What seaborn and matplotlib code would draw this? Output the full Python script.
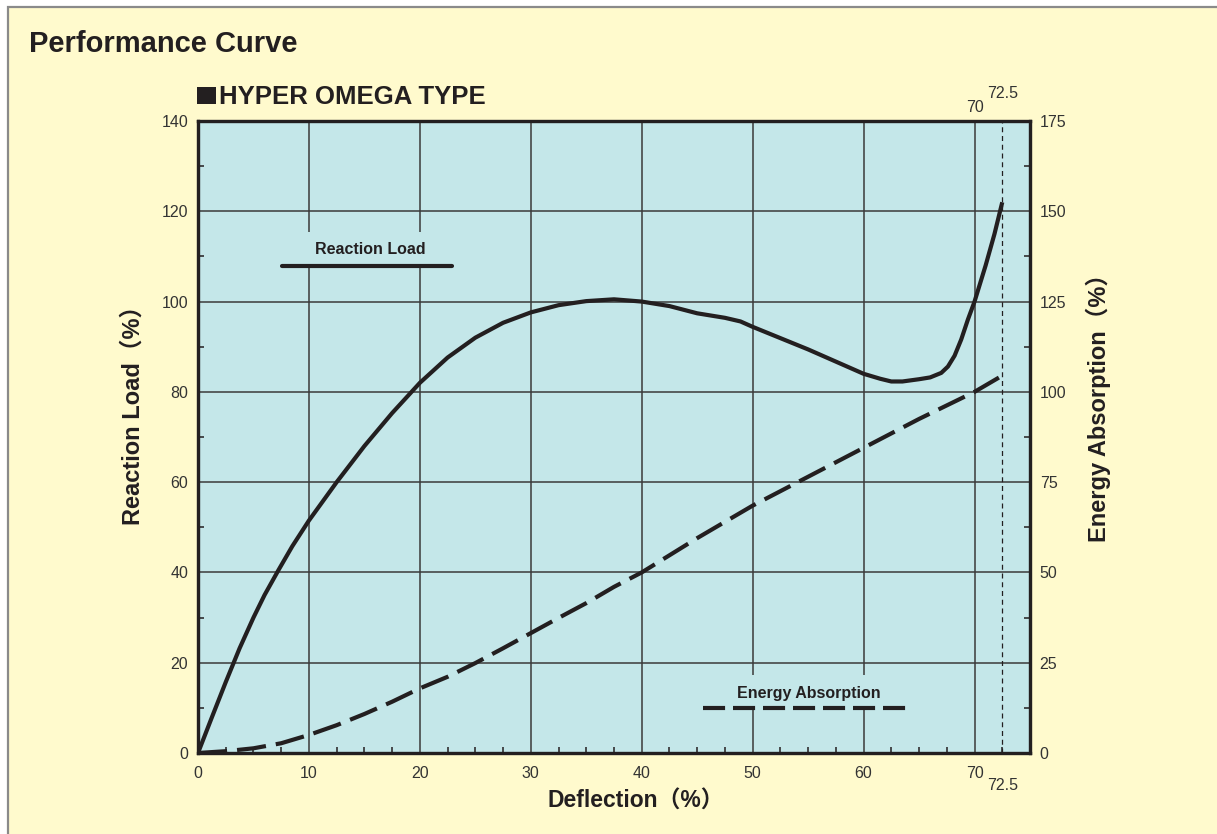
import matplotlib
matplotlib.use("Agg")
import matplotlib.pyplot as plt
from matplotlib.ticker import MultipleLocator, FixedLocator
from matplotlib.patches import Rectangle
from matplotlib.lines import Line2D
import pandas as pd
import seaborn as sns

# Reaction load (% of rated) vs deflection (%)
load_defl = [0, 1.25, 2.5, 3.75, 5, 6, 7.25, 8.5, 10, 12.5, 15, 17.5, 20, 22.5, 25, 27.5, 30, 32.5,
             35, 37.5, 40, 42.5, 45, 47.5, 48.9, 50, 52.5, 55, 57.5, 60, 61.5, 62.5, 63.5, 65,
             66, 67, 67.6, 68.2, 68.8, 69.4, 70, 71, 71.8, 72.5]
load_vals = [0, 7.9, 15.7, 23.2, 30.0, 35.0, 40.5, 45.8, 51.5, 60, 68, 75.3, 82, 87.6, 92, 95.3, 97.6, 99.2,
             100.1, 100.5, 100, 99, 97.4, 96.4, 95.6, 94.4, 91.9, 89.4, 86.7, 84, 82.9, 82.3, 82.3, 82.8,
             83.2, 84.2, 85.6, 88.0, 91.6, 96.0, 100, 108, 115, 122]

# Energy absorption (% of rated) vs deflection (%)
energy_defl = [0, 2.5, 5, 7.5, 10, 12.5, 15, 17.5, 20, 22.5, 25, 27.5, 30, 32.5, 35, 37.5, 40,
               45, 50, 55, 60, 65, 70, 72.5]
energy_vals = [0, 0.5, 1.3, 2.7, 5, 7.7, 10.8, 14.2, 17.9, 21.1, 24.9, 29, 33.2, 37.4, 41.5, 46, 50,
               59.5, 68.5, 76.5, 84.5, 92.5, 100, 104.5]

x_ticks = [0, 10, 20, 30, 40, 50, 60, 70]
left_ticks = [0, 20, 40, 60, 80, 100, 120, 140]
right_ticks = [0, 25, 50, 75, 100, 125, 150, 175]

FIG_BG = "#FFFACD"
AX_BG = "#C4E7E9"
INK = "#231F20"
NUM = "#333333"
FONTS = ["Liberation Sans", "DejaVu Sans", "Noto Sans CJK JP"]

sns.set_style("ticks")
plt.rcParams["font.family"] = FONTS
plt.rcParams["text.color"] = INK
plt.rcParams["axes.labelcolor"] = INK

W, H = 1217, 834
fig = plt.figure(figsize=(W / 100, H / 100), dpi=100, facecolor="white")

# yellow panel with grey border on left/top
fig.add_artist(Rectangle((8 / W, -0.05), 1.2, (H - 7) / H + 0.05, transform=fig.transFigure,
                         facecolor=FIG_BG, edgecolor="#8A8A8A", linewidth=1.6, zorder=-5))

ax = fig.add_axes([198 / W, (H - 753) / H, 832 / W, 632 / H])
ax.set_facecolor(AX_BG)
ax.set_axisbelow(True)

df_load = pd.DataFrame({"Deflection": load_defl, "Load": load_vals})
df_energy = pd.DataFrame({"Deflection": energy_defl, "Energy": energy_vals})

sns.lineplot(data=df_load, x="Deflection", y="Load", ax=ax, color=INK, linewidth=3.0,
             sort=False, zorder=5, solid_joinstyle="round", solid_capstyle="butt")

ax.set_xlim(0, 75)
ax.set_ylim(0, 140)
ax.xaxis.set_major_locator(FixedLocator(x_ticks))
ax.xaxis.set_minor_locator(MultipleLocator(2.5))
ax.yaxis.set_major_locator(FixedLocator(left_ticks))
ax.yaxis.set_minor_locator(MultipleLocator(10))
ax.grid(True, which="major", color="#3A3A3A", linewidth=1.1)

ax.tick_params(axis="both", which="major", length=0, labelsize=11.5, labelcolor=NUM)
ax.tick_params(axis="x", which="major", pad=9)
ax.tick_params(axis="y", which="major", pad=7)
ax.tick_params(axis="both", which="minor", direction="in", length=4.5, width=1.1, color=INK)

ax.set_xlabel("Deflection（%）", fontsize=16.5, fontweight="bold")
ax.set_ylabel("Reaction Load（%）", fontsize=17, fontweight="bold")
ax.xaxis.set_label_coords(0.526, -0.076)
ax.xaxis.label.set_va("center")
ax.yaxis.set_label_coords(-0.078, 0.543)
ax.yaxis.label.set_va("center")

for s in ax.spines.values():
    s.set_linewidth(2.3)
    s.set_color(INK)

# 72.5 limit line
ax.axvline(72.5, color=INK, linewidth=0.9, linestyle=(0, (4, 3)), zorder=3)

# right axis for energy absorption
ax2 = ax.twinx()
sns.lineplot(data=df_energy, x="Deflection", y="Energy", ax=ax2, color=INK, linewidth=3.0,
             sort=False, zorder=5)
ax2.lines[0].set_dashes((7, 2.4))
ax2.set_ylim(0, 175)
ax2.yaxis.set_major_locator(FixedLocator(right_ticks))
ax2.yaxis.set_minor_locator(MultipleLocator(12.5))
ax2.tick_params(axis="y", which="major", length=0, labelsize=11.5, labelcolor=NUM, pad=7)
ax2.tick_params(axis="y", which="minor", direction="in", length=4.5, width=1.1, color=INK)
ax2.set_ylabel("Energy Absorption（%）", fontsize=17, fontweight="bold")
ax2.yaxis.set_label_coords(1.082, 0.555)
ax2.yaxis.label.set_va("center")
ax2.set_xlabel("")
for s in ax2.spines.values():
    s.set_linewidth(2.3)
    s.set_color(INK)

# extra 70 / 72.5 labels
top = ax.get_xaxis_transform()
ax.text(70, 1.022, "70", transform=top, ha="center", va="center", fontsize=11.5, color=NUM)
ax.text(72.5, 1.043, "72.5", transform=top, ha="center", va="center", fontsize=11.5, color=NUM)
ax.text(72.5, -0.052, "72.5", transform=top, ha="center", va="center", fontsize=11.5, color=NUM)

# in-plot legend keys (with background boxes breaking the grid)
ax.add_patch(Rectangle((0.098, 0.7706), 0.21, 0.054, transform=ax.transAxes,
                       facecolor=AX_BG, edgecolor="none", zorder=1))
ax.text(0.2067, 0.797, "Reaction Load", transform=ax.transAxes, ha="center", va="center",
        fontsize=11.5, fontweight="bold", zorder=2)
ax.add_line(Line2D([0.101, 0.305], [0.7706, 0.7706], transform=ax.transAxes, color=INK,
                   linewidth=3.0, zorder=2))

ax.add_patch(Rectangle((0.604, 0.0712), 0.252, 0.052, transform=ax.transAxes,
                       facecolor=AX_BG, edgecolor="none", zorder=1))
ax.text(0.7337, 0.0949, "Energy Absorption", transform=ax.transAxes, ha="center", va="center",
        fontsize=11.5, fontweight="bold", zorder=2)
ax.add_line(Line2D([0.607, 0.853], [0.0712, 0.0712], transform=ax.transAxes, color=INK,
                   linewidth=3.0, dashes=(5.3, 1.9), zorder=2))

fig.text(29 / W, (H - 52) / H, "Performance Curve", fontsize=21, fontweight="bold", va="baseline")
fig.add_artist(Rectangle((197 / W, (H - 104) / H), 19 / W, 17 / H, transform=fig.transFigure,
                         facecolor=INK, edgecolor="none"))
fig.text(219 / W, (H - 104) / H, "HYPER OMEGA TYPE", fontsize=18.5, fontweight="bold",
         va="baseline")

fig.savefig("out.png", dpi=100, facecolor=fig.get_facecolor())
